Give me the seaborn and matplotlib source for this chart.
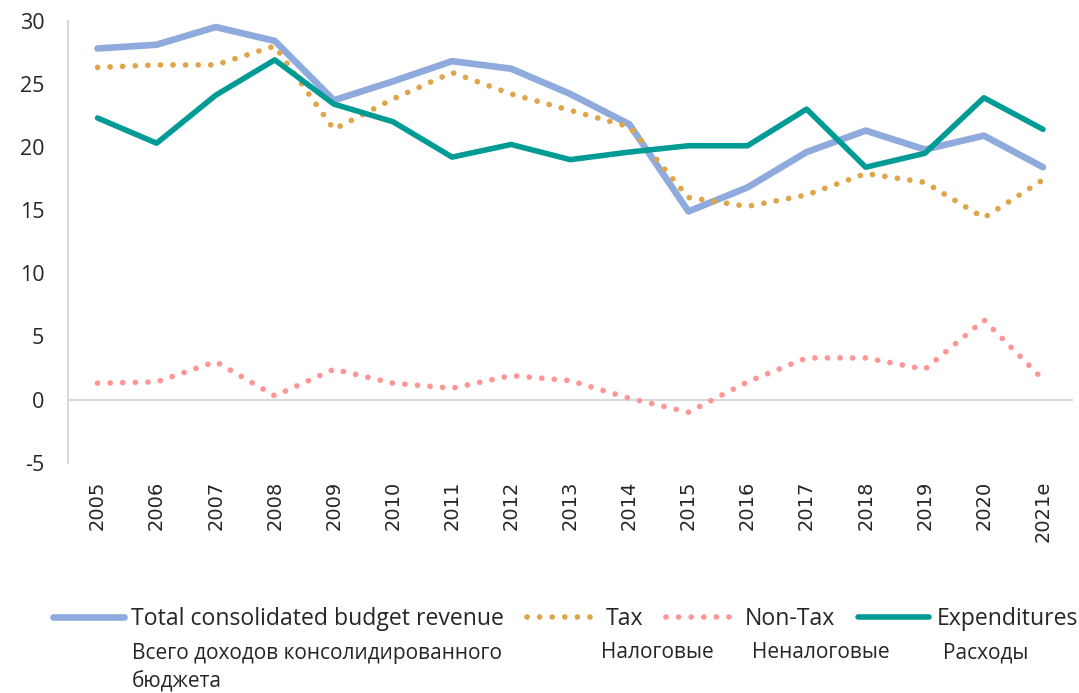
# Доходы и расходы консолидированного бюджета, % ВВП, 2005-2021e
import matplotlib

matplotlib.use("Agg")

import matplotlib.pyplot as plt  # noqa: E402
import numpy as np  # noqa: E402
import seaborn as sns  # noqa: E402

years = ["2005", "2006", "2007", "2008", "2009", "2010", "2011", "2012", "2013",
         "2014", "2015", "2016", "2017", "2018", "2019", "2020", "2021e"]
total = [27.8, 28.1, 29.5, 28.4, 23.7, 25.2, 26.8, 26.2, 24.2,
         21.8, 14.9, 16.8, 19.6, 21.3, 19.8, 20.9, 18.4]
tax = [26.3, 26.5, 26.5, 28.0, 21.4, 23.8, 25.9, 24.2, 22.9,
       21.6, 16.0, 15.3, 16.2, 17.9, 17.2, 14.4, 17.4]
non_tax = [1.3, 1.4, 3.0, 0.3, 2.4, 1.3, 0.9, 1.9, 1.5,
           0.1, -1.0, 1.4, 3.3, 3.3, 2.4, 6.3, 1.6]
expenditures = [22.3, 20.3, 24.1, 26.9, 23.4, 22.0, 19.2, 20.2, 19.0,
                19.6, 20.1, 20.1, 23.0, 18.4, 19.5, 23.9, 21.4]

labels_en = ["Total consolidated budget revenue", "Tax", "Non-Tax", "Expenditures"]
labels_ru = ["Всего доходов консолидированного\nбюджета", "Налоговые",
             "Неналоговые", "Расходы"]

sns.set_style("white")
plt.rcParams["font.family"] = ["Open Sans", "DejaVu Sans"]
plt.rcParams["axes.unicode_minus"] = False
# Точечные линии как в Excel: круглые точки
plt.rcParams["lines.dash_capstyle"] = "round"
plt.rcParams["lines.solid_capstyle"] = "round"

fig = plt.figure(figsize=(10.79, 6.93), dpi=100)
ax = fig.add_axes([0.063, 0.3323, 0.931, 0.6378])

x = np.arange(len(years))
dot = (0, (0.01, 2.2))
sns.lineplot(x=x, y=total, ax=ax, color="#8faadc", linewidth=4.8,
             label=labels_en[0])
sns.lineplot(x=x, y=tax, ax=ax, color="#dfa54a", linewidth=4.1,
             linestyle=dot, label=labels_en[1])
sns.lineplot(x=x, y=non_tax, ax=ax, color="#ff9696", linewidth=4.1,
             linestyle=dot, label=labels_en[2])
sns.lineplot(x=x, y=expenditures, ax=ax, color="#009b94", linewidth=4.0,
             label=labels_en[3])
for ln in ax.get_lines():
    ln.set_dash_capstyle("round")
    ln.set_solid_capstyle("round")

# Горизонтальная ось проходит через ноль, подписи годов внизу
ax.axhline(0, color="#d9d9d9", linewidth=1.5, zorder=0)
ax.set_xlim(-0.5, len(years) - 0.5)
ax.set_ylim(-5, 30)
ax.set_yticks(range(-5, 31, 5))
ax.set_xticks(x)
ax.set_xticklabels(years, rotation=90, family="DejaVu Sans", fontsize=14)
ax.tick_params(axis="x", length=0, pad=13)
ax.tick_params(axis="y", direction="in", length=6, width=1.5,
               color="#d9d9d9", pad=17, labelsize=15.5)
for side in ["top", "right", "bottom"]:
    ax.spines[side].set_visible(False)
ax.spines["left"].set_color("#d9d9d9")
ax.spines["left"].set_linewidth(1.5)
ax.set_xlabel("")
ax.set_ylabel("")

ax.get_legend().remove()
handles, lbls = ax.get_legend_handles_labels()
leg = fig.legend(handles, lbls, ncol=4, loc="center left",
                 bbox_to_anchor=(53 / 1079, 1 - 619 / 693), frameon=False,
                 fontsize=16.6, handlelength=3.1, handletextpad=0.3,
                 columnspacing=1.0, borderpad=0, borderaxespad=0)
for ln in leg.get_lines():
    ln.set_dash_capstyle("round")
    ln.set_solid_capstyle("round")

# Русские подписи под легендой (перенос строки — отдельной строкой ниже)
ru_x = [132, 601, 752, 943]
for xi, txt in zip(ru_x, labels_ru):
    for k, part in enumerate(txt.split("\n")):
        fig.text(xi / 1079, 1 - (653 + 29 * k) / 693, part,
                 ha="left", va="center", fontsize=15)

fig.savefig("out.png", dpi=100)
